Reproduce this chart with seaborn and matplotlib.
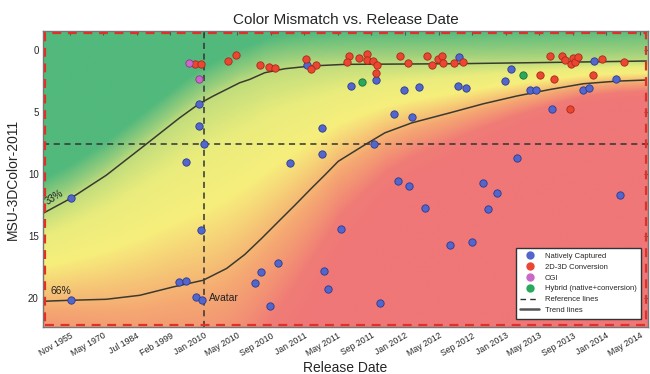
import numpy as np
import pandas as pd
import matplotlib
import matplotlib.pyplot as plt
from matplotlib.colors import LinearSegmentedColormap
from matplotlib.lines import Line2D
from matplotlib.patches import Rectangle
import seaborn as sns

# tick labels (the date axis is not linear, one slot per label)
date_labels = ["Nov 1955", "May 1970", "Jul 1984", "Feb 1999", "Jan 2010", "May 2010",
               "Sep 2010", "Jan 2011", "May 2011", "Sep 2011", "Jan 2012", "May 2012",
               "Sep 2012", "Jan 2013", "May 2013", "Sep 2013", "Jan 2014", "May 2014"]

# points (x in label slots, y = MSU-3DColor-2011)
native_x = [3.86, 3.87, 4.00, 3.46, 7.07, 9.15, 8.38, 9.96, 10.42, 9.68, 10.22, 7.51, 9.08,
            7.52, 6.58, 11.62, 11.59, 11.81, 13.15, 12.97, 13.73, 13.92, 15.65, 16.29, 15.30,
            15.48, 14.39, 13.33, 0.03, 3.92, 3.26, 3.48, 0.03, 3.78, 3.95, 9.78, 10.12, 10.59,
            8.08, 11.34, 6.22, 5.72, 5.52, 7.59, 7.69, 5.97, 9.26, 12.32, 12.75, 12.47, 11.99,
            16.42]
native_y = [4.35, 6.10, 7.58, 9.03, 1.21, 2.45, 2.96, 3.23, 3.04, 5.21, 5.38, 6.29, 7.55,
            8.36, 9.08, 0.59, 2.90, 3.06, 1.53, 2.53, 3.25, 3.25, 0.94, 2.34, 3.28,
            3.12, 4.81, 8.69, 11.96, 14.52, 18.70, 18.57, 20.10, 19.90, 20.10, 10.54, 10.97, 12.74,
            14.46, 15.70, 17.20, 17.90, 18.74, 17.82, 19.27, 20.60, 20.38, 10.73, 11.50, 12.82, 15.50,
            11.69]

conv_x = [3.74, 3.93, 4.73, 4.96, 5.69, 5.94, 6.12, 7.04, 7.34, 7.21, 8.32, 8.26, 8.63, 8.86,
          8.87, 9.04, 9.16, 9.14, 9.84, 10.08, 10.65, 10.82, 10.98, 11.10, 11.12, 11.46, 11.74,
          14.03, 14.45, 14.33, 14.67, 14.78, 14.95, 15.00, 15.08, 15.15, 15.89, 16.54, 15.61, 14.91]
conv_y = [1.16, 1.13, 0.94, 0.46, 1.26, 1.42, 1.45, 0.73, 1.21, 1.59, 0.48, 0.99, 0.70, 0.38,
          0.86, 0.89, 1.26, 1.91, 0.48, 1.10, 0.54, 1.24, 0.78, 0.48, 1.08, 1.08, 1.02,
          2.04, 2.34, 0.48, 0.48, 0.86, 1.13, 0.65, 1.02, 0.59, 0.73, 0.99, 2.07, 4.81]

cgi_x = [3.56, 3.86]
cgi_y = [1.10, 2.39]

hybrid_x = [8.71, 13.51]
hybrid_y = [2.63, 2.07]

# trend lines (33% and 66%)
trend33_x = [-0.8, 0.03, 1.09, 2.29, 3.28, 3.86, 4.28, 5.07, 5.37, 5.82, 6.42, 7.21, 8.21, 11.49, 14.5, 17.2]
trend33_y = [13.17, 11.96, 10.1, 7.58, 5.48, 4.35, 3.73, 2.66, 2.39, 1.85, 1.53, 1.31, 1.18, 1.13, 1.02, 0.91]
trend66_x = [-0.8, 0.03, 1.09, 2.09, 3.08, 3.98, 4.68, 5.22, 5.72, 6.22, 6.72, 7.21, 7.61, 8.01,
             8.81, 9.4, 10.2, 11.34, 12.34, 13.33, 14.33, 15.32, 16.32, 17.2]
trend66_y = [20.24, 20.16, 20.08, 19.76, 19.09, 18.55, 17.6, 16.48, 15.19, 13.84, 12.5, 11.15, 10.08, 8.98,
             7.64, 6.69, 5.89, 5.08, 4.35, 3.73, 3.2, 2.74, 2.53, 2.44]

ref_x = 4.0    # Jan 2010 (Avatar)
ref_y = 7.58

categories = ["Natively Captured", "2D-3D Conversion", "CGI", "Hybrid (native+conversion)"]
colors = ["#5266cc", "#ea4632", "#c868c8", "#2aa85c"]
edges = ["#2c3a8c", "#a82a1c", "#8a3a8a", "#17703a"]

df = pd.concat([
    pd.DataFrame({"x": native_x, "y": native_y, "type": categories[0]}),
    pd.DataFrame({"x": conv_x, "y": conv_y, "type": categories[1]}),
    pd.DataFrame({"x": cgi_x, "y": cgi_y, "type": categories[2]}),
    pd.DataFrame({"x": hybrid_x, "y": hybrid_y, "type": categories[3]}),
])

sns.set_style("white")
plt.rcParams['font.family'] = ['Liberation Sans', 'DejaVu Sans']

fig = plt.figure(figsize=(6.5, 3.74), dpi=100)
ax = fig.add_axes([0.066, 0.126, 0.931, 0.791])

xmin, xmax, ymin, ymax = -0.8, 17.25, -1.5, 22.3

# background shading, based on where a cell sits relative to the two trend lines
gx = np.linspace(xmin, xmax, 400)
gy = np.linspace(ymin, ymax, 300)
X, Y = np.meshgrid(gx, gy)
up = np.interp(gx, trend33_x, trend33_y)[None, :]
lo = np.interp(gx, trend66_x, trend66_y)[None, :]
t = np.where(Y < up, (Y - up) / 3.5, (Y - up) / (lo - up))
bg_cmap = LinearSegmentedColormap.from_list("bg", [
    (0.0, "#52b97c"), (0.2, "#9ccf7c"), (0.38, "#e9ec7c"), (0.5, "#f7ef7c"),
    (0.68, "#f5a872"), (0.85, "#f07c76"), (1.0, "#ef7777")])
ax.imshow(t, extent=[xmin, xmax, ymax, ymin], origin="upper", aspect="auto",
          cmap=bg_cmap, vmin=-0.8, vmax=2.0, zorder=0, interpolation="bilinear")

# reference + trend lines
ax.axvline(ref_x, color="#333333", lw=1.1, ls=(0, (4, 3)), zorder=2)
ax.axhline(ref_y, color="#333333", lw=1.1, ls=(0, (4, 3)), zorder=2)
ax.plot(trend33_x, trend33_y, color="#3a3a30", lw=1.1, zorder=2)
ax.plot(trend66_x, trend66_y, color="#3a3a30", lw=1.1, zorder=2)

for cat, c, ec in zip(categories, colors, edges):
    sns.scatterplot(data=df[df["type"] == cat], x="x", y="y", color=c, s=28,
                    edgecolor=ec, linewidth=0.6, legend=False, ax=ax, zorder=3)

ax.text(-0.45, 11.9, "33%", fontsize=7, rotation=32, ha="center", va="center", color="#222222")
ax.text(-0.25, 19.4, "66%", fontsize=7.5, ha="center", va="center", color="#222222")
ax.text(4.14, 19.95, "Avatar", fontsize=7.5, ha="left", va="center", color="#222222")

ax.set_xlim(xmin, xmax)
ax.set_ylim(ymax, ymin)
ax.set_xticks(range(len(date_labels)))
ax.set_xticklabels(date_labels, rotation=30, ha="right", rotation_mode="anchor", fontsize=6.3)
ax.set_yticks([0, 5, 10, 15, 20])
ax.set_yticklabels(["0", "5", "10", "15", "20"], fontsize=7)
ax.tick_params(direction="in", length=3, top=True, right=True, pad=3, color="#555555")

ax.set_title("Color Mismatch vs. Release Date", fontsize=11, pad=5)
ax.set_xlabel("Release Date", fontsize=10, labelpad=2)
ax.set_ylabel("MSU-3DColor-2011", fontsize=10, labelpad=6)

for sp in ax.spines.values():
    sp.set_color("#777777")
    sp.set_linewidth(1.0)
ax.add_patch(Rectangle((0.003, 0.006), 0.994, 0.988, transform=ax.transAxes, fill=False,
                       edgecolor="#e0302a", lw=1.6, ls=(0, (4, 3)), zorder=4))

handles = [Line2D([], [], ls="none", marker="o", ms=5, color=c, mec=c) for c in colors]
handles.append(Line2D([], [], color="#333333", lw=1.0, ls=(0, (4, 3))))
handles.append(Line2D([], [], color="#555555", lw=1.8))
labels = categories + ["Reference lines", "Trend lines"]
leg = ax.legend(handles, labels, loc="lower right", fontsize=5.5, frameon=True, fancybox=False,
                borderpad=0.6, labelspacing=0.45, handlelength=2.4, bbox_to_anchor=(0.995, 0.015))
leg.get_frame().set_edgecolor("#333333")
leg.get_frame().set_linewidth(1.0)
leg.get_frame().set_alpha(1.0)

fig.savefig("out.png", dpi=100)
plt.close()
